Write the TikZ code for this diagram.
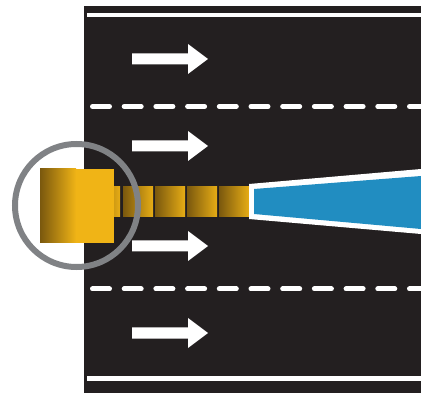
\documentclass[tikz,border=0pt]{standalone}
\usepackage{tikz}
\definecolor{road}{HTML}{231F20}
\definecolor{amber}{HTML}{F0B416}
\definecolor{ambdark}{HTML}{7A580E}
\definecolor{beam}{HTML}{218DC1}
\definecolor{ring}{HTML}{808285}
\tikzset{
  lanearrow/.style={fill=white},
  laneline/.style={white,line width=4.5pt},
  lanedash/.style={white,line width=5pt,line cap=round,dash pattern=on 17pt off 14.7pt},
  block/.style={left color=ambdark,right color=amber!92!ambdark}
}

\begin{document}
\begin{tikzpicture}[x=1pt,y=-1pt]
  \useasboundingbox (0,0) rectangle (421,393);
  \clip (0,0) rectangle (421,393);
  % road
  \fill[road] (84,6) rectangle (421,393);
  \draw[laneline] (87,15) -- (421,15);
  \draw[laneline] (87,378.5) -- (421,378.5);
  \draw[lanedash] (92.5,106.5) -- (425,106.5);
  \draw[lanedash] (92.5,289) -- (425,289);
  % direction of travel
  \foreach \y in {59,146,246,333}
    \fill[lanearrow] (132,\y-5.5) -- (188,\y-5.5) -- (188,\y-15) -- (208,\y)
      -- (188,\y+15) -- (188,\y+5.5) -- (132,\y+5.5) -- cycle;
  % trail of small blocks
  \foreach \x in {90,123,155,187,219}
    \shade[block] (\x,187) rectangle (\x+30,217);
  % beam
  \fill[white] (249,184) -- (421,169) -- (421,234) -- (249,219) -- cycle;
  \fill[beam] (254,189) -- (421,176) -- (421,229) -- (254,214) -- cycle;
  % main block
  \fill[amber] (75,169) rectangle (113.5,243);
  \shade[left color=ambdark,middle color=amber!80!ambdark,right color=amber] (40,169) rectangle (76,243);
  % marker ring
  \draw[ring,line width=6pt] (76.5,205.5) circle (61.5);
\end{tikzpicture}
\end{document}
